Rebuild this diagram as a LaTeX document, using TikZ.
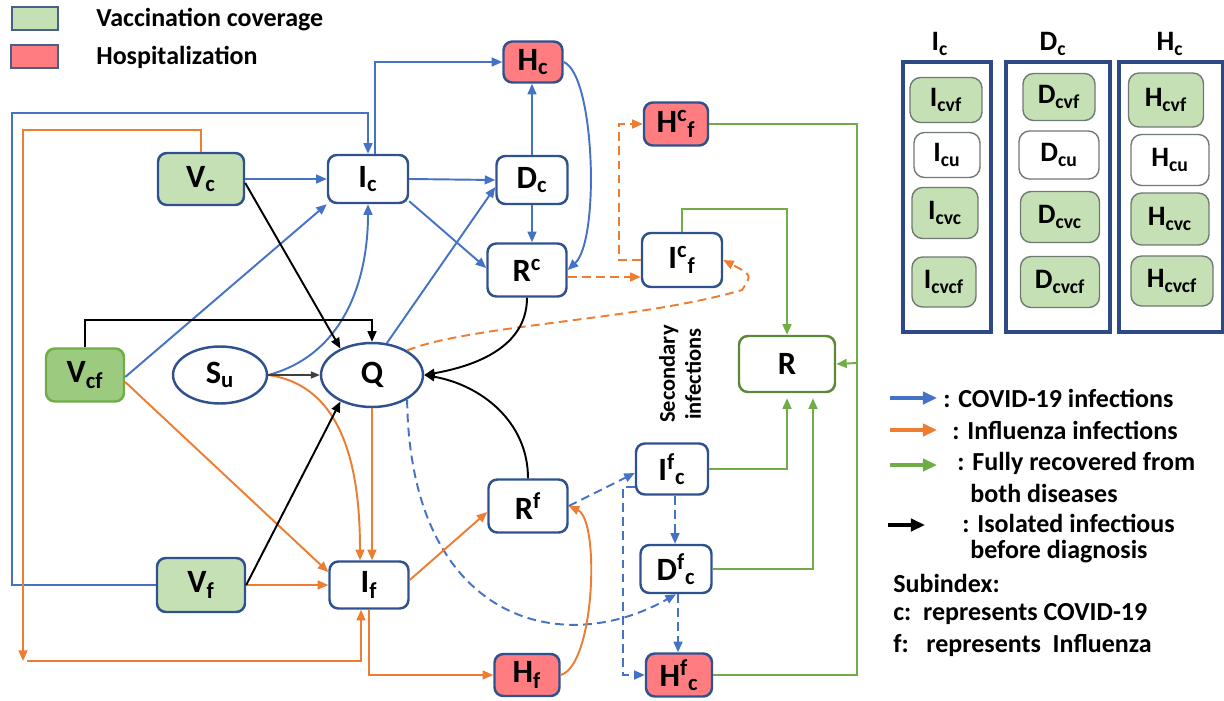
\documentclass[tikz,border=0pt]{standalone}
\usepackage{fontspec}
\setmainfont{Carlito}
\usetikzlibrary{shapes.geometric,arrows.meta,calc}
\definecolor{cblue}{HTML}{4472C4}
\definecolor{corange}{HTML}{ED7D31}
\definecolor{cgreen}{HTML}{70AD47}
\definecolor{nb}{HTML}{2F528F}
\definecolor{colb}{HTML}{2E4A86}
\definecolor{vg}{HTML}{C5E0B4}
\definecolor{vgd}{HTML}{9CCB80}
\definecolor{hr}{HTML}{FF7C80}
\definecolor{inbd}{HTML}{6F7A72}
\begin{document}
\begin{tikzpicture}[x=0.02cm,y=-0.02cm,
  box/.style={draw=nb, line width=1.4pt, rounded corners=5pt, fill=white, inner sep=0pt, font=\fontsize{18.5}{21}\selectfont\bfseries},
  vacc/.style={box, fill=vg},
  hosp/.style={box, fill=hr},
  ell/.style={ellipse, draw=nb, line width=1.4pt, fill=white, inner sep=0pt, font=\fontsize{18.5}{21}\selectfont\bfseries},
  col/.style={draw=colb, line width=2.3pt, inner sep=0pt},
  inb/.style={draw=inbd, line width=0.8pt, rounded corners=6pt, inner sep=0pt, font=\fontsize{16}{19}\selectfont\bfseries},
  coltitle/.style={font=\fontsize{16}{19}\selectfont\bfseries},
  arr/.style={-{Triangle[length=6pt,width=5pt]}, line width=1.1pt},
  fblue/.style={arr, draw=cblue},
  forange/.style={arr, draw=corange},
  fgreen/.style={arr, draw=cgreen},
  fblack/.style={arr, draw=black},
  plaing/.style={line width=1.1pt, draw=cgreen},
  dsh/.style={dashed, dash pattern=on 5pt off 3pt},
  legtxt/.style={anchor=west, inner sep=0pt, font=\fontsize{14.8}{17}\selectfont\bfseries},
  legarr/.style={-{Triangle[length=8pt,width=7pt]}, line width=1.8pt}
]
\useasboundingbox (0,0) rectangle (1224,700);

% ---- top-left legend
\node[draw=nb!70!gray, line width=0.8pt, fill=vg, minimum width=0.92cm, minimum height=0.46cm, inner sep=0pt] (lgsq) at (35,18.5) {};
\node[draw=nb!70!gray, line width=0.8pt, fill=hr, minimum width=0.94cm, minimum height=0.46cm, inner sep=0pt] (lrsq) at (34.5,56.5) {};
\node[legtxt] (lgt) at (96,20) {Vaccination coverage};
\node[legtxt] (lrt) at (96,57) {Hospitalization};

% ---- main nodes
\node[vacc, minimum width=1.72cm, minimum height=1.04cm] (Vc) at (201,179) {V\textsubscript{c}};
\node[box, minimum width=1.6cm, minimum height=0.96cm] (Ic) at (368,179) {I\textsubscript{c}};
\node[hosp, minimum width=1.18cm, minimum height=0.82cm] (Hc) at (533,62) {H\textsubscript{c}};
\node[box, minimum width=1.42cm, minimum height=0.96cm] (Dc) at (532,180) {D\textsubscript{c}};
\node[box, minimum width=1.58cm, minimum height=1.06cm] (Rc) at (527,270) {R\textsuperscript{c}};
\node[hosp, minimum width=1.28cm, minimum height=0.86cm] (Hcf) at (676,124) {H\textsuperscript{c}\textsubscript{f}};
\node[box, minimum width=1.6cm, minimum height=1.08cm] (Icf) at (682,260) {I\textsuperscript{c}\textsubscript{f}};
\node[box, draw=cgreen!80!black, minimum width=1.92cm, minimum height=1.12cm] (R) at (787,364) {R};
\node[box, fill=vgd, draw=cgreen, minimum width=1.56cm, minimum height=1.06cm] (Vcf) at (85,375) {V\textsubscript{cf}};
\node[ell, minimum width=1.88cm, minimum height=1.14cm] (Su) at (220,375) {S\textsubscript{u}};
\node[ell, minimum width=2.04cm, minimum height=1.28cm] (Q) at (372,375) {Q};
\node[vacc, minimum width=1.76cm, minimum height=1.08cm] (Vf) at (201,585) {V\textsubscript{f}};
\node[box, minimum width=1.58cm, minimum height=0.94cm] (If) at (369,585) {I\textsubscript{f}};
\node[box, minimum width=1.58cm, minimum height=1.06cm] (Rf) at (528,506) {R\textsuperscript{f}};
\node[hosp, minimum width=1.3cm, minimum height=0.84cm] (Hf) at (527,675) {H\textsubscript{f}};
\node[box, minimum width=1.44cm, minimum height=1.02cm] (Ifc) at (672,469) {I\textsuperscript{f}\textsubscript{c}};
\node[box, minimum width=1.42cm, minimum height=0.96cm] (Dfc) at (676,569) {D\textsuperscript{f}\textsubscript{c}};
\node[hosp, minimum width=1.32cm, minimum height=0.86cm] (Hfc) at (679,675) {H\textsuperscript{f}\textsubscript{c}};

\node[rotate=90, align=center, inner sep=0pt, font=\fontsize{12.8}{14.8}\selectfont\bfseries] (sec) at (680,374) {Secondary\\infections};

% ---- right columns
\node[col, minimum width=1.76cm, minimum height=5.4cm] (colI) at (947,197) {};
\node[col, minimum width=2.08cm, minimum height=5.4cm] (colD) at (1058,197) {};
\node[col, minimum width=2.08cm, minimum height=5.4cm] (colH) at (1171,197) {};
\node[coltitle] (tI) at (940,44) {I\textsubscript{c}};
\node[coltitle] (tD) at (1053,44) {D\textsubscript{c}};
\node[coltitle] (tH) at (1170,44) {H\textsubscript{c}};

\node[inb, fill=vg, minimum width=1.44cm, minimum height=0.9cm] (Icvf) at (946,100) {I\textsubscript{cvf}};
\node[inb, fill=white, minimum width=1.32cm, minimum height=0.9cm] (Icu) at (947,155) {I\textsubscript{cu}};
\node[inb, fill=vg, minimum width=1.32cm, minimum height=1.02cm] (Icvc) at (945,213) {I\textsubscript{cvc}};
\node[inb, fill=vg, minimum width=1.28cm, minimum height=1.0cm] (Icvcf) at (944,282) {I\textsubscript{cvcf}};
\node[inb, fill=vg, minimum width=1.44cm, minimum height=0.94cm] (Dcvf) at (1059,97) {D\textsubscript{cvf}};
\node[inb, fill=white, minimum width=1.6cm, minimum height=0.96cm] (Dcu) at (1059,155) {D\textsubscript{cu}};
\node[inb, fill=vg, minimum width=1.58cm, minimum height=1.02cm] (Dcvc) at (1060,217) {D\textsubscript{cvc}};
\node[inb, fill=vg, minimum width=1.58cm, minimum height=1.02cm] (Dcvcf) at (1060,282) {D\textsubscript{cvcf}};
\node[inb, fill=vg, minimum width=1.5cm, minimum height=1.08cm] (Hcvf) at (1166,100) {H\textsubscript{cvf}};
\node[inb, fill=white, minimum width=1.56cm, minimum height=1.02cm] (Hcu) at (1170,160) {H\textsubscript{cu}};
\node[inb, fill=vg, minimum width=1.56cm, minimum height=1.04cm] (Hcvc) at (1170,219) {H\textsubscript{cvc}};
\node[inb, fill=vg, minimum width=1.64cm, minimum height=1.0cm] (Hcvcf) at (1172,281) {H\textsubscript{cvcf}};

% ---- coordinates for bends
\coordinate (blc) at (12,113);
\coordinate (orc1) at (23,130);
\coordinate (orc2) at (23,661);
\coordinate (bkc) at (85,320);
\coordinate (bdc) at (623,675);
\coordinate (odc) at (619,124);
\coordinate (oqc) at (742,290);
\coordinate (gxc) at (857,363);
\coordinate (ifs) at ($(Ifc.south)+(3,0)$);
\coordinate (dfs) at ($(Dfc.south)+(2,0)$);

% ---- blue (COVID-19)
\draw[fblue] (Vc.east) -- (Ic.west);
\draw[fblue] ($(Vcf.east)+(0,2)$) -- (Ic.south west);
\draw[fblue] (Su.east) to[out=15,in=-90] (Ic.south);
\draw[fblue] (Q.65) -- ($(Dc.west)+(0,7)$);
\draw[fblue] (Ic.east) -- (Dc.west);
\draw[fblue] ($(Ic.south east)+(0,-3)$) -- ($(Rc.west)+(0,-2)$);
\draw[fblue] (Dc.south) -- (Dc.south |- Rc.north);
\draw[fblue] (Dc.north) -- (Dc.north |- Hc.south);
\draw[fblue] ($(Ic.north)+(7,0)$) |- (Hc.west);
\draw[fblue] (Hc.east) .. controls (595,75) and (600,240) .. (Rc.east);
\draw[fblue] (Vf.west) -| (blc) -| (Ic.north);
\draw[fblue, dsh] (Q.-35) .. controls (410,620) and (560,660) .. (Dfc.south);
\draw[fblue, dsh] (Rf.east) -- ($(Ifc.west)+(0,4)$);
\draw[fblue, dsh] (ifs) -- (ifs |- Dfc.north);
\draw[fblue, dsh] (dfs) -- (dfs |- Hfc.north);
\draw[fblue, dsh] ($(Ifc.west)+(0,18)$) -| (bdc) -- (Hfc.west);

% ---- orange (influenza)
\draw[forange] (Vc.north) |- (orc1) -- (orc2);
\draw[forange] ($(orc2)+(4,0)$) -| ($(If.south)+(-8,0)$);
\draw[forange] ($(Vcf.east)+(0,7)$) -- ($(If.west)+(0,-13)$);
\draw[forange] (Vf.east) -- (If.west);
\draw[forange] (Su.east) to[out=-8,in=90] ($(If.north)+(-9,0)$);
\draw[forange] (Q.south) -- (Q.south |- If.north);
\draw[forange] ($(If.east)+(0,-5)$) -- ($(Rf.west)+(0,6)$);
\draw[forange] (If.south) |- (Hf.west);
\draw[forange] (Hf.east) .. controls (595,665) and (600,520) .. (Rf.east);
\draw[forange, dsh] ($(Rc.east)+(0,7)$) -- ($(Icf.west)+(0,17)$);
\draw[forange, dsh] (Icf.west) -| (odc) -- (Hcf.west);
\draw[forange, dsh] (Q.35) .. controls (470,325) and (640,320) .. (oqc) .. controls (752,275) .. (Icf.east);

% ---- black (isolated)
\draw[fblack] ($(Vc.east)+(0,4)$) -- (Q.140);
\draw[fblack] (Vcf.north) -- (bkc) -| (Q.north);
\draw[-{Triangle[length=5pt,width=4pt]}, line width=0.6pt, draw=black!75] (Su.east) -- (Q.west);
\draw[fblack] (Vf.east) -- (Q.-140);
\draw[fblack] (Rc.south) to[out=-90,in=10] (Q.east);
\draw[fblack] (Rf.north) to[out=90,in=-10] (Q.east);

% ---- green (recovered)
\draw[fgreen] (Hcf.east) -| (gxc) -- (R.east);
\draw[plaing] (Hfc.east) -| (gxc);
\draw[fgreen] (Icf.north) -- ++(0,-23) -| (R.north);
\draw[fgreen] (Ifc.east) -| ($(R.south)+(0,5)$);
\draw[fgreen] (Dfc.east) -| ($(R.south)+(26,5)$);

% ---- bottom-right legend
\coordinate (lb1) at (890,398); \coordinate (lb2) at (937,398);
\coordinate (lo1) at (890,430); \coordinate (lo2) at (937,430);
\coordinate (lg1) at (890,465); \coordinate (lg2) at (937,465);
\coordinate (lk1) at (888,525); \coordinate (lk2) at (925,525);
\draw[legarr, draw=cblue] (lb1) -- (lb2);
\draw[legarr, draw=corange] (lo1) -- (lo2);
\draw[legarr, draw=cgreen] (lg1) -- (lg2);
\draw[legarr, draw=black] (lk1) -- (lk2);
\node[legtxt] (t1) at (943,398) {: COVID-19 infections};
\node[legtxt] (t2) at (952,430) {: Influenza infections};
\node[legtxt] (t3) at (957,463) {: Fully recovered from};
\node[legtxt] (t4) at (970,493) {both diseases};
\node[legtxt] (t5) at (962,523) {: Isolated infectious};
\node[legtxt] (t6) at (970,552) {before diagnosis};
\node[legtxt] (t7) at (893,583) {Subindex:};
\node[legtxt] (t8) at (893,614) {c:\ \ represents COVID-19};
\node[legtxt] (t9) at (893,645) {f:\ \ \ represents\ \ Influenza};
\end{tikzpicture}
\end{document}
